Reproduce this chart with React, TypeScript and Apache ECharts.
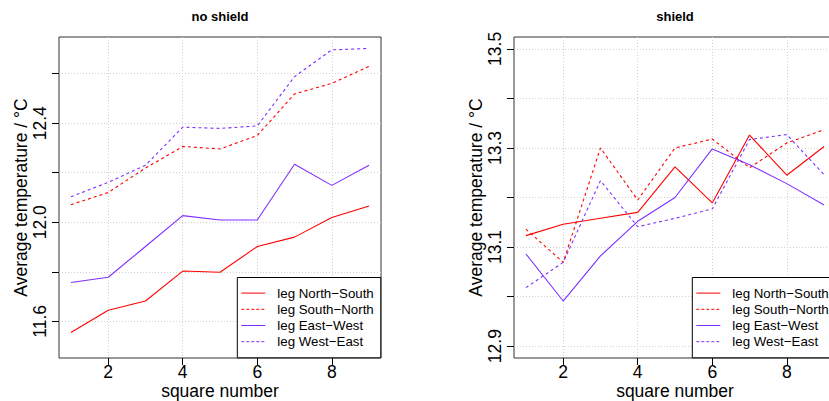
import React, { useEffect, useRef } from "react";
import * as echarts from "echarts";

const squares = [1, 2, 3, 4, 5, 6, 7, 8, 9];
const seriesNames = ["leg North−South", "leg South−North", "leg East−West", "leg West−East"];
const xTitle = "square number";
const yTitle = "Average temperature / °C";
const panelTitles = ["no shield", "shield"];

// no shield
const noShieldNS = [11.555, 11.645, 11.682, 11.803, 11.798, 11.902, 11.94, 12.019, 12.066];
const noShieldSN = [12.071, 12.12, 12.219, 12.306, 12.296, 12.35, 12.518, 12.561, 12.629];
const noShieldEW = [11.757, 11.778, 11.902, 12.027, 12.009, 12.009, 12.234, 12.149, 12.23];
const noShieldWE = [12.103, 12.161, 12.23, 12.384, 12.379, 12.389, 12.588, 12.696, 12.702];

// shield
const shieldNS = [13.123, 13.146, 13.158, 13.17, 13.262, 13.189, 13.326, 13.245, 13.303];
const shieldSN = [13.136, 13.069, 13.3, 13.195, 13.3, 13.318, 13.26, 13.31, 13.337];
const shieldEW = [13.086, 12.991, 13.082, 13.152, 13.2, 13.298, 13.266, 13.228, 13.185];
const shieldWE = [13.018, 13.069, 13.234, 13.141, 13.158, 13.177, 13.317, 13.327, 13.246];

const xTicks = [2, 4, 6, 8];
const yTicksLeft = [11.6, 11.8, 12.0, 12.2, 12.4, 12.6];
const yLabelsLeft = [11.6, 12.0, 12.4];
const yTicksRight = [12.9, 13.0, 13.1, 13.2, 13.3, 13.4, 13.5];
const yLabelsRight = [12.9, 13.1, 13.3, 13.5];

const xLimits = [1, 9];
const yLimitsLeft = [11.5, 12.7];
const yLimitsRight = [12.9, 13.5];

const RED = "#ff0000";
const BLUE = "#7f2fff";
const colors = [RED, RED, BLUE, BLUE];
const dashed = [false, true, false, true];
const FONT = "'Liberation Sans', Arial, Helvetica, sans-serif";

function ext(lim: number[]) {
  const d = (lim[1] - lim[0]) * 0.04;
  return [lim[0] - d, lim[1] + d];
}

export default function App() {
  const ref = useRef<HTMLDivElement>(null);
  useEffect(() => {
    if (!ref.current) return;
    const chart = echarts.init(ref.current, undefined, { renderer: "svg" });
    const xr = ext(xLimits);
    const yl = ext(yLimitsLeft);
    const yr = ext(yLimitsRight);

    const mkX = (gi: number) => ({
      type: "value",
      gridIndex: gi,
      min: xr[0],
      max: xr[1],
      axisLine: { show: false },
      axisTick: { show: true, customValues: xTicks, length: 7, lineStyle: { color: "#000" } },
      axisLabel: { customValues: xTicks, fontSize: 17.5, color: "#000", margin: 5, fontFamily: FONT },
      splitLine: { show: true, lineStyle: { color: "#d0d0d0", type: [1, 2], width: 1 } },
    });
    const mkY = (gi: number, r: number[], ticks: number[], labels: number[]) => ({
      type: "value",
      gridIndex: gi,
      min: r[0],
      max: r[1],
      splitNumber: 6,
      axisLine: { show: false },
      axisTick: { show: true, customValues: ticks, length: 7, lineStyle: { color: "#000" } },
      axisLabel: {
        customValues: labels,
        rotate: 90,
        fontSize: 17.5,
        color: "#000",
        margin: 10.5,
        fontFamily: FONT,
        formatter: (v: number) => v.toFixed(1),
      },
      splitLine: { show: true, lineStyle: { color: "#d0d0d0", type: [1, 2], width: 1 } },
      name: yTitle,
      nameLocation: "middle",
      nameGap: 28,
      nameRotate: 90,
      nameTextStyle: { fontSize: 17.5, color: "#000", fontFamily: FONT },
    });

    const mkSeries = (gi: number, arr: number[], k: number) => ({
      type: "line",
      name: seriesNames[k],
      xAxisIndex: gi,
      yAxisIndex: gi,
      data: squares.map((x, i) => [x, arr[i]]),
      symbol: "none",
      showSymbol: false,
      itemStyle: { color: colors[k] },
      lineStyle: { color: colors[k], width: 1.1, type: dashed[k] ? [3, 3] : "solid" },
      emphasis: { disabled: true },
      z: 3,
    });

    const mkLegend = (left: number) => ({
      data: seriesNames.map((name, k) => ({
        name,
        itemStyle: { opacity: 0 },
        lineStyle: { color: colors[k], width: 1, type: dashed[k] ? [3, 2] : "solid", opacity: 1 },
      })),
      orient: "vertical",
      left,
      top: 277.5,
      itemWidth: 24,
      itemHeight: 10,
      itemGap: 0,
      padding: [7.5, 7, 8, 3.5],
      borderColor: "#000",
      borderWidth: 1,
      backgroundColor: "#fff",
      selectedMode: false,
      textStyle: { fontSize: 13.3, color: "#000", fontFamily: FONT, lineHeight: 16.2, padding: [0, 0, 0, 7] },
      z: 10,
    });

    const titleText = (x: number, text: string) => ({
      type: "text", x, y: 16,
      style: { text, fill: "#000", font: `bold 13px ${FONT}`, textAlign: "center", textVerticalAlign: "middle" },
    });
    const xTitleText = (x: number) => ({
      type: "text", x, y: 400,
      style: { text: xTitle, fill: "#000", font: `17.5px ${FONT}`, textAlign: "center", textVerticalAlign: "bottom" },
    });

    chart.setOption({
      animation: false,
      backgroundColor: "#fff",
      grid: [
        { left: 59, top: 37, width: 322, height: 321, outerBoundsMode: "none", containLabel: false, show: true, borderColor: "#333", borderWidth: 1, backgroundColor: "transparent" },
        { left: 514, top: 37, width: 322, height: 321, outerBoundsMode: "none", containLabel: false, show: true, borderColor: "#333", borderWidth: 1, backgroundColor: "transparent" },
      ],
      xAxis: [mkX(0), mkX(1)],
      yAxis: [mkY(0, yl, yTicksLeft, yLabelsLeft), mkY(1, yr, yTicksRight, yLabelsRight)],
      legend: [mkLegend(237.3), mkLegend(692.3)],
      graphic: [
        titleText(220, panelTitles[0]),
        titleText(675, panelTitles[1]),
        xTitleText(220),
        xTitleText(675),
      ],
      series: [
        mkSeries(0, noShieldNS, 0),
        mkSeries(0, noShieldSN, 1),
        mkSeries(0, noShieldEW, 2),
        mkSeries(0, noShieldWE, 3),
        mkSeries(1, shieldNS, 0),
        mkSeries(1, shieldSN, 1),
        mkSeries(1, shieldEW, 2),
        mkSeries(1, shieldWE, 3),
      ],
    });
    return () => chart.dispose();
  }, []);

  return (
    <div style={{ position: "fixed", left: 0, top: 0, width: 829, height: 401, overflow: "hidden", background: "#fff" }}>
      <div ref={ref} style={{ width: 845, height: 401 }} />
    </div>
  );
}
